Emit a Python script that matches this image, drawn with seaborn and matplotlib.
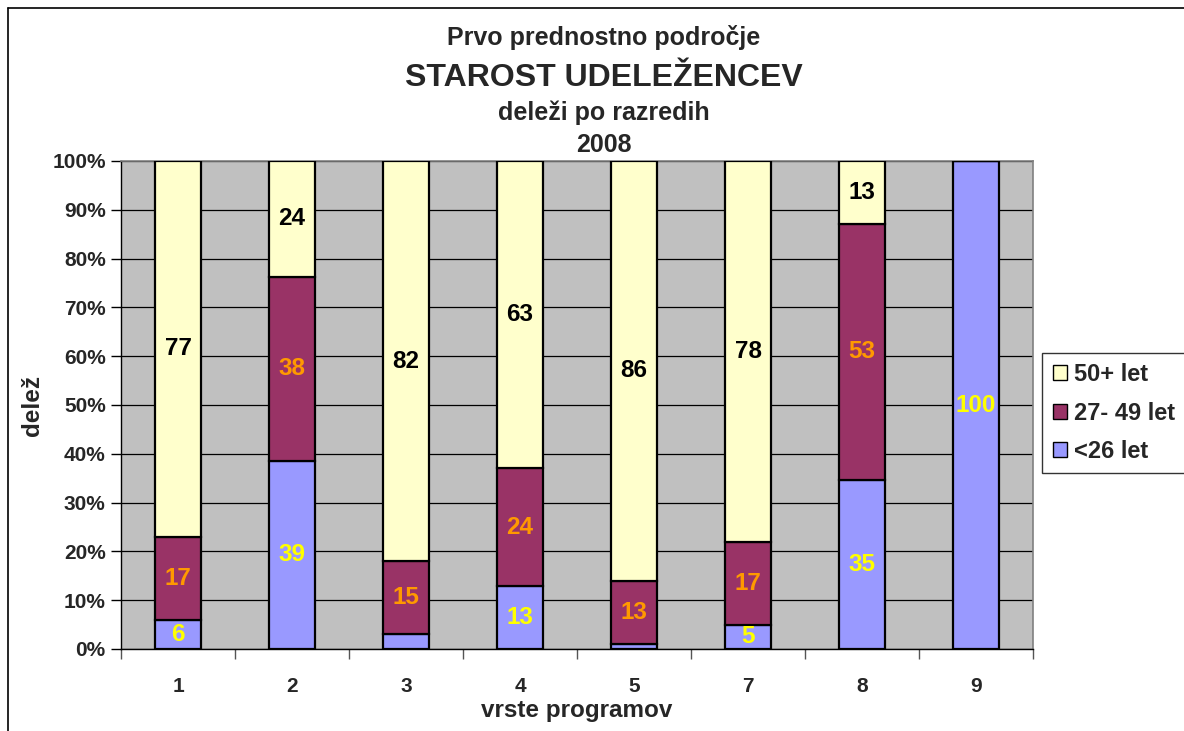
import numpy as np
import pandas as pd
import matplotlib
matplotlib.use("Agg")
import matplotlib.pyplot as plt
from matplotlib.lines import Line2D
from matplotlib.patches import Patch
from matplotlib.ticker import FixedLocator
import seaborn as sns

programs = ["1", "2", "3", "4", "5", "7", "8", "9"]
under_26 = [6, 39, 3, 13, 1, 5, 35, 100]
age_27_49 = [17, 38, 15, 24, 13, 17, 53, 0]
over_50 = [77, 24, 82, 63, 86, 78, 13, 0]

series_names = ["<26 let", "27- 49 let", "50+ let"]
series_values = [under_26, age_27_49, over_50]
fill_colors = ["#9999FF", "#993366", "#FFFFCC"]
label_colors = ["#FFFF00", "#FF9900", "#000000"]

sns.set_theme(style="white")
plt.rcParams["font.family"] = ["Liberation Sans", "DejaVu Sans"]
plt.rcParams["font.weight"] = "bold"

# 100 % stacked: normalise each programme to its total
totals = np.array(series_values).sum(axis=0)
shares = [np.array(v) / totals * 100 for v in series_values]

fig = plt.figure(figsize=(11.84, 7.31), dpi=100)
ax = fig.add_axes([121 / 1184, 1 - 649 / 731, (1033 - 121) / 1184, (649 - 161) / 731])
ax.set_facecolor("#C0C0C0")

bottom = np.zeros(len(programs))
for name, share, raw, fc, lc in zip(series_names, shares, series_values, fill_colors, label_colors):
    df = pd.DataFrame({"program": programs, "share": share})
    sns.barplot(data=df, x="program", y="share", order=programs, color=fc,
                saturation=1, width=0.4, bottom=bottom, edgecolor="black",
                linewidth=1.6, ax=ax, zorder=3)
    for i, (s, r) in enumerate(zip(share, raw)):
        if r >= 4:
            ax.text(i, bottom[i] + s / 2, str(r), ha="center", va="center",
                    color=lc, fontsize=17.5, fontweight="bold", zorder=4)
    bottom = bottom + share

ax.set_xlim(-0.5, len(programs) - 0.5)
ax.set_ylim(0, 100)
ax.set_yticks(np.arange(0, 101, 10))
ax.set_yticklabels([f"{v}%" for v in range(0, 101, 10)], fontsize=15, fontweight="bold")
ax.yaxis.grid(True, color="#000000", linewidth=0.9, zorder=0)
ax.set_axisbelow(True)
ax.tick_params(axis="y", left=True, length=7, width=1, color="black", pad=4)

ax.set_xticks(range(len(programs)))
ax.set_xticklabels(programs, fontsize=15, fontweight="bold")
ax.xaxis.set_minor_locator(FixedLocator(np.arange(-0.5, len(programs), 1.0)))
ax.tick_params(axis="x", which="major", bottom=False, length=0, pad=20)
ax.tick_params(axis="x", which="minor", bottom=True, length=7, width=1, color="#555555")

for side in ["left", "bottom"]:
    ax.spines[side].set_color("black")
    ax.spines[side].set_linewidth(1)
for side in ["top", "right"]:
    ax.spines[side].set_color("#808080")
    ax.spines[side].set_linewidth(1.2)

ax.set_xlabel("vrste programov", fontsize=17.5, fontweight="bold", labelpad=2)
ax.set_ylabel("delež", fontsize=17.5, fontweight="bold", labelpad=6)

title_x = 604 / 1184
fig.text(title_x, 1 - 38 / 731, "Prvo prednostno področje", ha="center", va="center",
         fontsize=18, fontweight="bold")
fig.text(title_x, 1 - 78 / 731, "STAROST UDELEŽENCEV", ha="center", va="center",
         fontsize=23, fontweight="bold")
fig.text(title_x, 1 - 113 / 731, "deleži po razredih", ha="center", va="center",
         fontsize=18, fontweight="bold")
fig.text(title_x, 1 - 145 / 731, "2008", ha="center", va="center",
         fontsize=18, fontweight="bold")

handles = [Patch(facecolor=c, edgecolor="black", linewidth=1) for c in fill_colors[::-1]]
leg = fig.legend(handles, series_names[::-1], loc="center left",
                 bbox_to_anchor=(1042 / 1184, 1 - 413 / 731), fontsize=17,
                 frameon=True, fancybox=False, edgecolor="black",
                 handlelength=0.6, handleheight=0.6, handletextpad=0.3,
                 labelspacing=0.65, borderpad=0.45, borderaxespad=0)
leg.get_frame().set_linewidth(1)
for t in leg.get_texts():
    t.set_fontweight("bold")

fig.add_artist(Line2D([8 / 1184, 8 / 1184], [0, 1 - 8 / 731], color="black", linewidth=1.2))
fig.add_artist(Line2D([8 / 1184, 1], [1 - 8 / 731, 1 - 8 / 731], color="black", linewidth=1.2))

fig.savefig("out.png", dpi=100, facecolor="white")
